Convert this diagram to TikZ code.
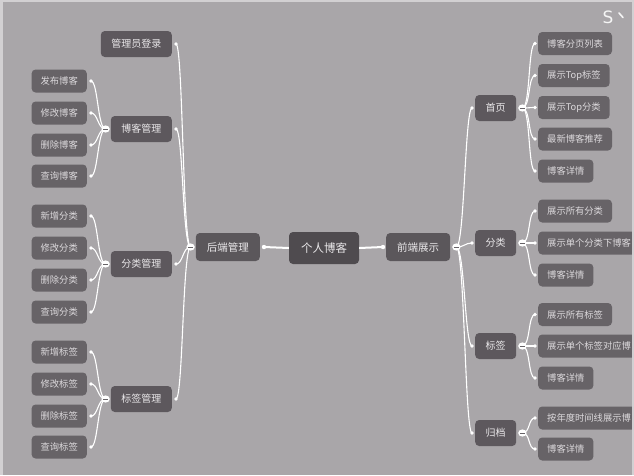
\documentclass[tikz,border=0pt]{standalone}
\usepackage{fontspec}
\newfontfamily\cjk{Noto Sans CJK SC}
\usetikzlibrary{calc}
\definecolor{bgc}{HTML}{A9A6A9}
\definecolor{edgec}{HTML}{D2D0D2}
\definecolor{rootc}{HTML}{4F4B4F}
\definecolor{lvone}{HTML}{5B575B}
\definecolor{lvtwo}{HTML}{5D585D}
\definecolor{leafc}{HTML}{676367}
\definecolor{txtc}{HTML}{EAE8EA}
\definecolor{leaftxt}{HTML}{DCD9DC}
\tikzset{
  box/.style={rounded corners=4pt, inner ysep=0pt, text=txtc, font=\cjk},
  rootbox/.style={box, fill=rootc, minimum height=32pt, inner xsep=12pt, font=\cjk\fontsize{11.5}{12}\selectfont},
  onebox/.style={box, fill=lvone, minimum height=28pt, inner xsep=11pt, font=\cjk\fontsize{10.5}{11}\selectfont},
  twobox/.style={box, fill=lvtwo, minimum height=26pt, inner xsep=10.5pt, font=\cjk\fontsize{10}{11}\selectfont},
  leafbox/.style={box, fill=leafc, minimum height=23pt, inner xsep=9pt, text=leaftxt, font=\cjk\fontsize{9.3}{10}\selectfont},
  conn/.style={draw=white, line width=1.1pt},
  mainconn/.style={draw=white, line width=2pt},
}
\newcommand\linkL[2]{%
  \draw[conn] ($(#1.west)+(-5,0)$) .. controls +(-8,0) and +(7,0) .. ($(#2.east)+(4,0)$);
  \fill[white] ($(#2.east)+(4,0)$) circle (1.9);}
\newcommand\linkR[2]{%
  \draw[conn] ($(#1.east)+(6,0)$) .. controls +(8,0) and +(-7,0) .. ($(#2.west)+(-3,0)$);
  \fill[white] ($(#2.west)+(-3,0)$) circle (1.9);}
\newcommand\btnL[1]{%
  \fill[white] ($(#1.west)+(-5,0)$) ellipse (4.2 and 3.6);
  \draw[leafc, line width=0.9pt] ($(#1.west)+(-7.5,0)$) -- ($(#1.west)+(-2.5,0)$);}
\newcommand\btnR[1]{%
  \fill[white] ($(#1.east)+(6,0)$) ellipse (4.2 and 3.6);
  \draw[leafc, line width=0.9pt] ($(#1.east)+(3.5,0)$) -- ($(#1.east)+(8.5,0)$);}
\begin{document}
\begin{tikzpicture}[x=1pt, y=-1pt]
\useasboundingbox (0,0) rectangle (634,475);
\fill[bgc] (0,0) rectangle (634,475);

% root and first level
\node[rootbox] (root) at (324,248) {个人博客};
\node[onebox, anchor=east] (back) at (260,247) {后端管理};
\node[onebox, anchor=west] (front) at (386,247) {前端展示};

% left second level
\node[twobox, anchor=east] (login) at (172,44) {管理员登录};
\node[twobox, anchor=east] (blogm) at (172,129) {博客管理};
\node[twobox, anchor=east] (catm) at (172,264) {分类管理};
\node[twobox, anchor=east] (tagm) at (172,399) {标签管理};

% left leaves
\node[leafbox, anchor=east] (b1) at (87,81) {发布博客};
\node[leafbox, anchor=east] (b2) at (87,113) {修改博客};
\node[leafbox, anchor=east] (b3) at (87,145) {删除博客};
\node[leafbox, anchor=east] (b4) at (87,176) {查询博客};
\node[leafbox, anchor=east] (c1) at (87,216) {新增分类};
\node[leafbox, anchor=east] (c2) at (87,248) {修改分类};
\node[leafbox, anchor=east] (c3) at (87,280) {删除分类};
\node[leafbox, anchor=east] (c4) at (87,312) {查询分类};
\node[leafbox, anchor=east] (t1) at (87,352) {新增标签};
\node[leafbox, anchor=east] (t2) at (87,384) {修改标签};
\node[leafbox, anchor=east] (t3) at (87,416) {删除标签};
\node[leafbox, anchor=east] (t4) at (87,447) {查询标签};

% right second level
\node[twobox, anchor=west] (home) at (475,108) {首页};
\node[twobox, anchor=west] (cat) at (475,243) {分类};
\node[twobox, anchor=west] (tag) at (475,346) {标签};
\node[twobox, anchor=west] (arch) at (475,433) {归档};

% right leaves
\node[leafbox, anchor=west] (h1) at (538,43.5) {博客分页列表};
\node[leafbox, anchor=west] (h2) at (538,75.5) {展示Top标签};
\node[leafbox, anchor=west] (h3) at (538,107.5) {展示Top分类};
\node[leafbox, anchor=west] (h4) at (538,139) {最新博客推荐};
\node[leafbox, anchor=west] (h5) at (538,171) {博客详情};
\node[leafbox, anchor=west] (k1) at (538,211) {展示所有分类};
\node[leafbox, anchor=west, inner xsep=9pt] (k2) at (538,243) {展示单个分类下博客\hspace{6pt}};
\node[leafbox, anchor=west] (k3) at (538,275) {博客详情};
\node[leafbox, anchor=west] (g1) at (538,314.5) {展示所有标签};
\node[leafbox, anchor=west] (g2) at (538,346) {展示单个标签对应博\hspace{6pt}};
\node[leafbox, anchor=west] (g3) at (538,378) {博客详情};
\node[leafbox, anchor=west] (a1) at (538,418) {按年度时间线展示博\hspace{6pt}};
\node[leafbox, anchor=west] (a2) at (538,449) {博客详情};

% root connectors
\draw[mainconn] (root.west) -- ($(back.east)+(4,0)$);
\fill[white] ($(back.east)+(4,0)$) circle (2.2);
\draw[mainconn] (root.east) -- ($(front.west)+(-3,0)$);
\fill[white] ($(front.west)+(-3,0)$) circle (2.2);

% left connectors
\linkL{back}{login}
\linkL{back}{blogm}
\linkL{back}{catm}
\linkL{back}{tagm}
\foreach \c in {b1,b2,b3,b4} {\linkL{blogm}{\c}}
\foreach \c in {c1,c2,c3,c4} {\linkL{catm}{\c}}
\foreach \c in {t1,t2,t3,t4} {\linkL{tagm}{\c}}
\btnL{back}
\btnL{blogm}
\btnL{catm}
\btnL{tagm}

% right connectors
\linkR{front}{home}
\linkR{front}{cat}
\linkR{front}{tag}
\linkR{front}{arch}
\foreach \c in {h1,h2,h3,h4,h5} {\linkR{home}{\c}}
\foreach \c in {k1,k2,k3} {\linkR{cat}{\c}}
\foreach \c in {g1,g2,g3} {\linkR{tag}{\c}}
\foreach \c in {a1,a2} {\linkR{arch}{\c}}
\btnR{front}
\btnR{home}
\btnR{cat}
\btnR{tag}
\btnR{arch}

% screen edges
\fill[edgec] (631.5,0) rectangle (634,475);
\fill[edgec] (0,0) rectangle (2.5,475);
\fill[edgec] (0,0) rectangle (634,1.5);

% corner mark
\node[text=white!92!gray, font=\fontspec{DejaVu Sans}\fontsize{17}{18}\selectfont, inner sep=0pt] (smark) at (608,17) {S};
\draw[white!92!gray, line width=1.6pt, line cap=round] (619,13) -- (623,17.5);
\end{tikzpicture}
\end{document}
